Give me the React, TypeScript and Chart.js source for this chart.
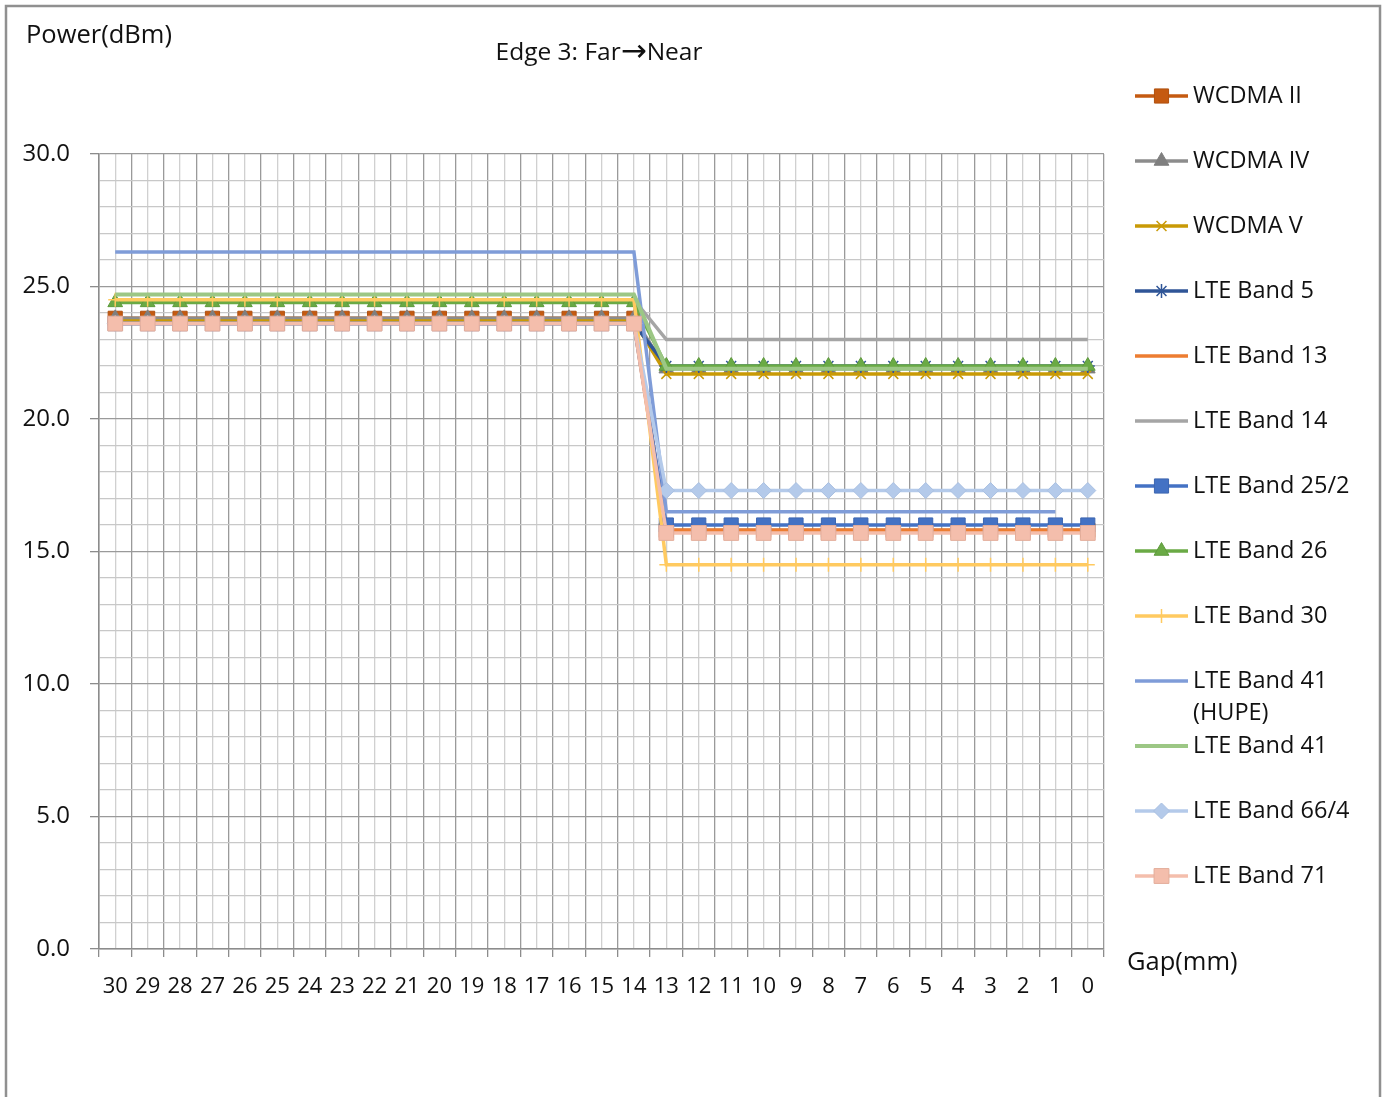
import React, { useEffect, useRef } from "react";
import { Chart, registerables } from "chart.js";
import { drawPoint } from "chart.js/helpers";

Chart.register(...registerables);

const gaps = [30, 29, 28, 27, 26, 25, 24, 23, 22, 21, 20, 19, 18, 17, 16, 15, 14, 13, 12, 11, 10, 9, 8, 7, 6, 5, 4, 3, 2, 1, 0];

const seriesNames = [
  "WCDMA II", "WCDMA IV", "WCDMA V", "LTE Band 5", "LTE Band 13", "LTE Band 14",
  "LTE Band 25/2", "LTE Band 26", "LTE Band 30", "LTE Band 41 (HUPE)", "LTE Band 41",
  "LTE Band 66/4", "LTE Band 71",
];

const wcdmaII = [23.8, 23.8, 23.8, 23.8, 23.8, 23.8, 23.8, 23.8, 23.8, 23.8, 23.8, 23.8, 23.8, 23.8, 23.8, 23.8, 23.8, 15.8, 15.8, 15.8, 15.8, 15.8, 15.8, 15.8, 15.8, 15.8, 15.8, 15.8, 15.8, 15.8, 15.8];
const wcdmaIV = [23.8, 23.8, 23.8, 23.8, 23.8, 23.8, 23.8, 23.8, 23.8, 23.8, 23.8, 23.8, 23.8, 23.8, 23.8, 23.8, 23.8, 21.9, 21.9, 21.9, 21.9, 21.9, 21.9, 21.9, 21.9, 21.9, 21.9, 21.9, 21.9, 21.9, 21.9];
const wcdmaV = [23.7, 23.7, 23.7, 23.7, 23.7, 23.7, 23.7, 23.7, 23.7, 23.7, 23.7, 23.7, 23.7, 23.7, 23.7, 23.7, 23.7, 21.7, 21.7, 21.7, 21.7, 21.7, 21.7, 21.7, 21.7, 21.7, 21.7, 21.7, 21.7, 21.7, 21.7];
const lteB5 = [23.6, 23.6, 23.6, 23.6, 23.6, 23.6, 23.6, 23.6, 23.6, 23.6, 23.6, 23.6, 23.6, 23.6, 23.6, 23.6, 23.6, 22.0, 22.0, 22.0, 22.0, 22.0, 22.0, 22.0, 22.0, 22.0, 22.0, 22.0, 22.0, 22.0, 22.0];
const lteB13 = [23.6, 23.6, 23.6, 23.6, 23.6, 23.6, 23.6, 23.6, 23.6, 23.6, 23.6, 23.6, 23.6, 23.6, 23.6, 23.6, 23.6, 15.8, 15.8, 15.8, 15.8, 15.8, 15.8, 15.8, 15.8, 15.8, 15.8, 15.8, 15.8, 15.8, 15.8];
const lteB14 = [24.5, 24.5, 24.5, 24.5, 24.5, 24.5, 24.5, 24.5, 24.5, 24.5, 24.5, 24.5, 24.5, 24.5, 24.5, 24.5, 24.5, 23.0, 23.0, 23.0, 23.0, 23.0, 23.0, 23.0, 23.0, 23.0, 23.0, 23.0, 23.0, 23.0, 23.0];
const lteB25 = [23.6, 23.6, 23.6, 23.6, 23.6, 23.6, 23.6, 23.6, 23.6, 23.6, 23.6, 23.6, 23.6, 23.6, 23.6, 23.6, 23.6, 16.0, 16.0, 16.0, 16.0, 16.0, 16.0, 16.0, 16.0, 16.0, 16.0, 16.0, 16.0, 16.0, 16.0];
const lteB26 = [24.4, 24.4, 24.4, 24.4, 24.4, 24.4, 24.4, 24.4, 24.4, 24.4, 24.4, 24.4, 24.4, 24.4, 24.4, 24.4, 24.4, 22.0, 22.0, 22.0, 22.0, 22.0, 22.0, 22.0, 22.0, 22.0, 22.0, 22.0, 22.0, 22.0, 22.0];
const lteB30 = [24.5, 24.5, 24.5, 24.5, 24.5, 24.5, 24.5, 24.5, 24.5, 24.5, 24.5, 24.5, 24.5, 24.5, 24.5, 24.5, 24.5, 14.5, 14.5, 14.5, 14.5, 14.5, 14.5, 14.5, 14.5, 14.5, 14.5, 14.5, 14.5, 14.5, 14.5];
const lteB41H = [26.3, 26.3, 26.3, 26.3, 26.3, 26.3, 26.3, 26.3, 26.3, 26.3, 26.3, 26.3, 26.3, 26.3, 26.3, 26.3, 26.3, 16.5, 16.5, 16.5, 16.5, 16.5, 16.5, 16.5, 16.5, 16.5, 16.5, 16.5, 16.5, 16.5, null];
const lteB41 = [24.7, 24.7, 24.7, 24.7, 24.7, 24.7, 24.7, 24.7, 24.7, 24.7, 24.7, 24.7, 24.7, 24.7, 24.7, 24.7, 24.7, 21.9, 21.9, 21.9, 21.9, 21.9, 21.9, 21.9, 21.9, 21.9, 21.9, 21.9, 21.9, 21.9, 21.9];
const lteB66 = [23.6, 23.6, 23.6, 23.6, 23.6, 23.6, 23.6, 23.6, 23.6, 23.6, 23.6, 23.6, 23.6, 23.6, 23.6, 23.6, 23.6, 17.3, 17.3, 17.3, 17.3, 17.3, 17.3, 17.3, 17.3, 17.3, 17.3, 17.3, 17.3, 17.3, 17.3];
const lteB71 = [23.6, 23.6, 23.6, 23.6, 23.6, 23.6, 23.6, 23.6, 23.6, 23.6, 23.6, 23.6, 23.6, 23.6, 23.6, 23.6, 23.6, 15.7, 15.7, 15.7, 15.7, 15.7, 15.7, 15.7, 15.7, 15.7, 15.7, 15.7, 15.7, 15.7, 15.7];

const seriesValues = [wcdmaII, wcdmaIV, wcdmaV, lteB5, lteB13, lteB14, lteB25, lteB26, lteB30, lteB41H, lteB41, lteB66, lteB71];

const yTickValues = [0, 5, 10, 15, 20, 25, 30];

type Style = { line: string; fill: string; stroke: string; pointStyle: any; radius: number; pbw: number; lw: number };
const styles: Style[] = [
  { line: "#C55A11", fill: "#C55A11", stroke: "#B0500F", pointStyle: "rect", radius: 10, pbw: 1, lw: 3.5 },
  { line: "#8C8C8C", fill: "#7F7F7F", stroke: "#7F7F7F", pointStyle: "triangle", radius: 8.5, pbw: 1, lw: 3.5 },
  { line: "#C99A06", fill: "#C99A06", stroke: "#C99A06", pointStyle: "crossRot", radius: 7, pbw: 1.5, lw: 3.5 },
  { line: "#2F5597", fill: "#2F5597", stroke: "#2F5597", pointStyle: "star", radius: 7, pbw: 1.5, lw: 3.5 },
  { line: "#ED7D31", fill: "#ED7D31", stroke: "#ED7D31", pointStyle: false, radius: 0, pbw: 0, lw: 3.5 },
  { line: "#A5A5A5", fill: "#A5A5A5", stroke: "#A5A5A5", pointStyle: false, radius: 0, pbw: 0, lw: 3.5 },
  { line: "#4472C4", fill: "#4472C4", stroke: "#3D66B0", pointStyle: "rect", radius: 10, pbw: 1, lw: 3.5 },
  { line: "#6AAA45", fill: "#6AAA45", stroke: "#5E9A3C", pointStyle: "triangle", radius: 8.5, pbw: 1, lw: 3.5 },
  { line: "#FFCA60", fill: "#FFCA60", stroke: "#FFCA60", pointStyle: "cross", radius: 7, pbw: 1.5, lw: 3.5 },
  { line: "#7F9CD8", fill: "#7F9CD8", stroke: "#7F9CD8", pointStyle: false, radius: 0, pbw: 0, lw: 3.5 },
  { line: "#9CC785", fill: "#9CC785", stroke: "#9CC785", pointStyle: false, radius: 0, pbw: 0, lw: 4 },
  { line: "#B4CAEA", fill: "#B4CAEA", stroke: "#A9C0E2", pointStyle: "rectRot", radius: 8, pbw: 1, lw: 3.5 },
  { line: "#F4BEAC", fill: "#F4BEAC", stroke: "#E3AD9B", pointStyle: "rect", radius: 10.5, pbw: 1, lw: 3.5 },
];

const FONT = "'Open Sans', 'Noto Sans', sans-serif";
const TEXT = "#111111";

const decorPlugin = {
  id: "decor",
  beforeDraw(chart: any) {
    const ctx = chart.ctx;
    ctx.save();
    ctx.fillStyle = "#ffffff";
    ctx.fillRect(0, 0, chart.width, chart.height);
    ctx.strokeStyle = "#909090";
    ctx.lineWidth = 2.5;
    ctx.strokeRect(6, 6, 1374, 1120);
    ctx.restore();
  },
  afterDraw(chart: any) {
    const ctx = chart.ctx;
    ctx.save();
    ctx.fillStyle = TEXT;
    ctx.textBaseline = "middle";
    ctx.textAlign = "left";
    ctx.font = `25.5px ${FONT}`;
    ctx.fillText("Power(dBm)", 26, 36);
    ctx.fillText("Gap(mm)", 1127, 963);

    // title: "Edge 3: Far→Near" (arrow drawn in a font with a wide glyph)
    const t1 = "Edge 3: Far", arrow = "\u2192", t2 = "Near";
    const f1 = `24.5px ${FONT}`, fA = `31px 'DejaVu Sans', sans-serif`;
    ctx.font = f1;
    const w1 = ctx.measureText(t1).width, w2 = ctx.measureText(t2).width;
    ctx.font = fA;
    const wA = ctx.measureText(arrow).width;
    let tx0 = 599 - (w1 + wA + w2) / 2;
    ctx.font = f1;
    ctx.fillText(t1, tx0, 53);
    ctx.font = fA;
    ctx.fillText(arrow, tx0 + w1, 53);
    ctx.font = f1;
    ctx.fillText(t2, tx0 + w1 + wA, 53);

    // legend
    ctx.font = `23.5px ${FONT}`;
    ctx.textAlign = "left";
    const x0 = 1135, x1 = 1188, tx = 1193, maxW = 182;
    chart.data.datasets.forEach((ds: any, i: number) => {
      const st = styles[i];
      const cy = 96 + 65 * i;
      ctx.save();
      ctx.strokeStyle = st.line;
      ctx.lineWidth = st.lw;
      ctx.lineCap = "butt";
      ctx.beginPath();
      ctx.moveTo(x0, cy);
      ctx.lineTo(x1, cy);
      ctx.stroke();
      if (st.pointStyle) {
        ctx.fillStyle = st.fill;
        ctx.strokeStyle = st.stroke;
        ctx.lineWidth = st.pbw;
        drawPoint(ctx, { pointStyle: st.pointStyle, rotation: 0, radius: st.radius, borderWidth: st.pbw } as any, (x0 + x1) / 2, cy);
      }
      ctx.restore();
      const words = String(ds.label).split(" ");
      const lines: string[] = [];
      let cur = "";
      words.forEach((w) => {
        const t = cur ? cur + " " + w : w;
        if (ctx.measureText(t).width > maxW && cur) {
          lines.push(cur);
          cur = w;
        } else cur = t;
      });
      if (cur) lines.push(cur);
      ctx.fillStyle = TEXT;
      lines.forEach((ln, k) => ctx.fillText(ln, tx, cy + 32 * k));
    });
    ctx.restore();
  },
};

export default function App() {
  const ref = useRef<HTMLCanvasElement | null>(null);
  useEffect(() => {
    if (!ref.current) return;
    const datasets = seriesNames.map((name, i) => {
      const st = styles[i];
      return {
        label: name,
        data: gaps.map((g, k) => ({ x: g, y: seriesValues[i][k] })),
        borderColor: st.line,
        backgroundColor: st.fill,
        borderWidth: st.lw,
        pointStyle: st.pointStyle,
        pointRadius: st.pointStyle ? st.radius : 0,
        pointBackgroundColor: st.fill,
        pointBorderColor: st.stroke,
        pointBorderWidth: st.pbw,
        tension: 0,
        order: seriesNames.length - i,
        spanGaps: false,
      };
    });
    const chart = new Chart(ref.current, {
      type: "line",
      data: { datasets } as any,
      plugins: [decorPlugin],
      options: {
        animation: false,
        responsive: false,
        devicePixelRatio: 1,
        layout: { padding: { left: 0, top: 154, right: 284, bottom: 0 } },
        plugins: { legend: { display: false }, tooltip: { enabled: false }, title: { display: false } },
        scales: {
          x: {
            type: "linear",
            reverse: true,
            min: -0.5,
            max: 30.5,
            afterFit(scale: any) { scale.height = 148; },
            afterBuildTicks(scale: any) {
              const t: any[] = [];
              for (let v = -0.5; v <= 30.5; v += 0.5) t.push({ value: v });
              scale.ticks = t;
            },
            border: { display: true, color: "#8C8C8C", width: 1.5 },
            grid: {
              color: (c: any) => (Number.isInteger(c.tick?.value) ? "#D0D0D0" : "#9A9A9A"),
              lineWidth: 1.3,
              tickColor: (c: any) => (Number.isInteger(c.tick?.value) ? "rgba(0,0,0,0)" : "#8C8C8C"),
              tickLength: 8,
              drawTicks: true,
            },
            ticks: {
              autoSkip: false,
              maxRotation: 0,
              minRotation: 0,
              padding: 17,
              color: TEXT,
              font: { family: FONT, size: 22 },
              callback: (v: any) => (Number.isInteger(v) && gaps.includes(v) ? String(v) : ""),
            },
          },
          y: {
            type: "linear",
            min: 0,
            max: 30,
            afterFit(scale: any) { scale.width = 99; },
            border: { display: true, color: "#8C8C8C", width: 1.5 },
            grid: {
              color: (c: any) => (c.tick && yTickValues.includes(c.tick.value) ? "#9A9A9A" : "#C8C8C8"),
              lineWidth: 1.3,
              tickColor: (c: any) => (c.tick && yTickValues.includes(c.tick.value) ? "#8C8C8C" : "rgba(0,0,0,0)"),
              tickLength: 9,
            },
            ticks: {
              stepSize: 1,
              autoSkip: false,
              padding: 20,
              color: TEXT,
              font: { family: FONT, size: 24 },
              callback: (v: any) => (yTickValues.includes(v) ? Number(v).toFixed(1) : ""),
            },
          },
        },
      } as any,
    });
    return () => chart.destroy();
  }, []);
  return (
    <div style={{ position: "absolute", left: 0, top: 0, width: 1388, height: 1097, background: "#fff", overflow: "hidden" }}>
      <canvas ref={ref} width={1388} height={1097} style={{ width: 1388, height: 1097, display: "block" }} />
    </div>
  );
}
